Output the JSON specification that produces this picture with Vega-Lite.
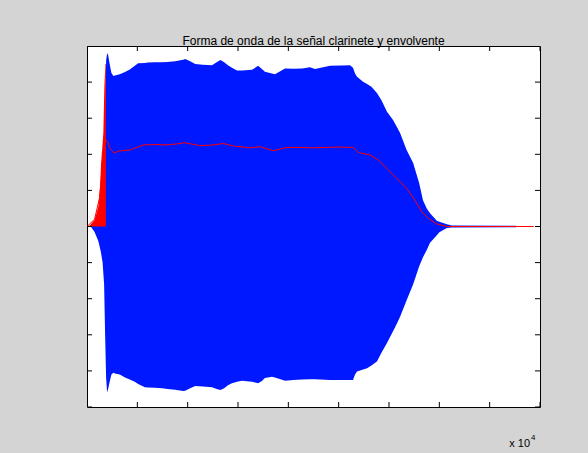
{
  "$schema": "https://vega.github.io/schema/vega-lite/v6.json",
  "width": 453,
  "height": 361,
  "autosize": {"type": "none"},
  "padding": {"left": 87, "top": 46, "right": 48, "bottom": 46},
  "background": "#d4d4d4",
  "config": {
    "view": {"stroke": "black", "fill": "white", "strokeWidth": 1},
    "font": "Liberation Sans",
    "axis": {"grid": false, "domain": false, "ticks": true, "tickOpacity": 0, "tickSize": 5, "labelOverlap": false, "labelColor": "black", "titleColor": "black", "labelFont": "Liberation Sans", "titleFont": "Liberation Sans", "labelFontSize": 11, "titleFontSize": 12, "titleFontWeight": "normal"}
  },
  "title": {"text": "Forma de onda de la señal clarinete y envolvente", "fontSize": 12, "fontWeight": "normal", "font": "Liberation Sans", "color": "black", "offset": -2},
  "datasets": {
    "onda": [
      {"x": 1500, "hi": 0, "lo": 0},
      {"x": 3000, "hi": 0.01, "lo": -0.015},
      {"x": 4500, "hi": 0.02, "lo": -0.04},
      {"x": 5500, "hi": 0.04, "lo": -0.07},
      {"x": 6200, "hi": 0.06, "lo": -0.1},
      {"x": 6800, "hi": 0.1, "lo": -0.16},
      {"x": 7200, "hi": 0.3, "lo": -0.3},
      {"x": 7600, "hi": 0.46, "lo": -0.42},
      {"x": 8000, "hi": 0.48, "lo": -0.46},
      {"x": 8400, "hi": 0.475, "lo": -0.45},
      {"x": 9000, "hi": 0.45, "lo": -0.43},
      {"x": 9700, "hi": 0.425, "lo": -0.41},
      {"x": 10500, "hi": 0.417, "lo": -0.405},
      {"x": 11100, "hi": 0.418, "lo": -0.407},
      {"x": 13000, "hi": 0.422, "lo": -0.41},
      {"x": 15100, "hi": 0.428, "lo": -0.418},
      {"x": 17000, "hi": 0.435, "lo": -0.424},
      {"x": 19000, "hi": 0.445, "lo": -0.43},
      {"x": 20300, "hi": 0.452, "lo": -0.436},
      {"x": 23000, "hi": 0.453, "lo": -0.445},
      {"x": 24200, "hi": 0.454, "lo": -0.446},
      {"x": 27000, "hi": 0.455, "lo": -0.447},
      {"x": 29800, "hi": 0.455, "lo": -0.448},
      {"x": 32000, "hi": 0.456, "lo": -0.45},
      {"x": 35000, "hi": 0.458, "lo": -0.452},
      {"x": 38200, "hi": 0.462, "lo": -0.456},
      {"x": 39000, "hi": 0.464, "lo": -0.455},
      {"x": 41000, "hi": 0.458, "lo": -0.448},
      {"x": 43000, "hi": 0.45, "lo": -0.442},
      {"x": 46000, "hi": 0.448, "lo": -0.443},
      {"x": 49700, "hi": 0.447, "lo": -0.445},
      {"x": 51500, "hi": 0.455, "lo": -0.45},
      {"x": 53000, "hi": 0.461, "lo": -0.453},
      {"x": 54500, "hi": 0.455, "lo": -0.448},
      {"x": 56000, "hi": 0.447, "lo": -0.44},
      {"x": 57600, "hi": 0.44, "lo": -0.434},
      {"x": 59600, "hi": 0.432, "lo": -0.43},
      {"x": 61600, "hi": 0.432, "lo": -0.427},
      {"x": 65600, "hi": 0.434, "lo": -0.43},
      {"x": 68000, "hi": 0.445, "lo": -0.434},
      {"x": 69500, "hi": 0.436, "lo": -0.428},
      {"x": 70700, "hi": 0.429, "lo": -0.42},
      {"x": 73500, "hi": 0.424, "lo": -0.416},
      {"x": 74700, "hi": 0.422, "lo": -0.418},
      {"x": 78700, "hi": 0.438, "lo": -0.427},
      {"x": 82000, "hi": 0.437, "lo": -0.425},
      {"x": 85500, "hi": 0.438, "lo": -0.424},
      {"x": 88600, "hi": 0.441, "lo": -0.423},
      {"x": 90600, "hi": 0.436, "lo": -0.423},
      {"x": 96600, "hi": 0.445, "lo": -0.425},
      {"x": 101000, "hi": 0.446, "lo": -0.425},
      {"x": 104500, "hi": 0.447, "lo": -0.425},
      {"x": 105700, "hi": 0.44, "lo": -0.425},
      {"x": 106500, "hi": 0.424, "lo": -0.41},
      {"x": 107300, "hi": 0.415, "lo": -0.402},
      {"x": 109700, "hi": 0.401, "lo": -0.396},
      {"x": 111300, "hi": 0.395, "lo": -0.393},
      {"x": 113000, "hi": 0.387, "lo": -0.385},
      {"x": 115200, "hi": 0.37, "lo": -0.374},
      {"x": 117000, "hi": 0.35, "lo": -0.35},
      {"x": 119200, "hi": 0.318, "lo": -0.323},
      {"x": 121600, "hi": 0.295, "lo": -0.29},
      {"x": 123200, "hi": 0.275, "lo": -0.268},
      {"x": 124400, "hi": 0.259, "lo": -0.25},
      {"x": 127000, "hi": 0.212, "lo": -0.204},
      {"x": 129600, "hi": 0.176, "lo": -0.16},
      {"x": 132000, "hi": 0.12, "lo": -0.11},
      {"x": 133500, "hi": 0.073, "lo": -0.085},
      {"x": 135000, "hi": 0.05, "lo": -0.065},
      {"x": 136300, "hi": 0.037, "lo": -0.045},
      {"x": 139000, "hi": 0.016, "lo": -0.024},
      {"x": 140000, "hi": 0.013, "lo": -0.016},
      {"x": 143000, "hi": 0.006, "lo": -0.004},
      {"x": 145000, "hi": 0.003, "lo": -0.003},
      {"x": 170500, "hi": 0.002, "lo": -0.002}
    ],
    "ataque": [
      {"x": 0, "y": 0},
      {"x": 1000, "y": 0.002},
      {"x": 3000, "y": 0.018},
      {"x": 4500, "y": 0.055},
      {"x": 5200, "y": 0.11},
      {"x": 5600, "y": 0.176},
      {"x": 6100, "y": 0.22},
      {"x": 6500, "y": 0.26},
      {"x": 6900, "y": 0.387},
      {"x": 7300, "y": 0.45},
      {"x": 7500, "y": 0.45},
      {"x": 7501, "y": 0}
    ],
    "envolvente": [
      {"x": 0, "y": 0},
      {"x": 3000, "y": 0.02},
      {"x": 5000, "y": 0.08},
      {"x": 6500, "y": 0.2},
      {"x": 7400, "y": 0.24},
      {"x": 8200, "y": 0.235},
      {"x": 9100, "y": 0.217},
      {"x": 10500, "y": 0.205},
      {"x": 11100, "y": 0.204},
      {"x": 12500, "y": 0.209},
      {"x": 17100, "y": 0.212},
      {"x": 20000, "y": 0.22},
      {"x": 22400, "y": 0.226},
      {"x": 27000, "y": 0.227},
      {"x": 31700, "y": 0.226},
      {"x": 36000, "y": 0.229},
      {"x": 39000, "y": 0.232},
      {"x": 42000, "y": 0.228},
      {"x": 44900, "y": 0.224},
      {"x": 50200, "y": 0.226},
      {"x": 54200, "y": 0.23},
      {"x": 58100, "y": 0.223},
      {"x": 64800, "y": 0.218},
      {"x": 68800, "y": 0.221},
      {"x": 74000, "y": 0.21},
      {"x": 79400, "y": 0.219},
      {"x": 84700, "y": 0.219},
      {"x": 90000, "y": 0.218},
      {"x": 95000, "y": 0.219},
      {"x": 100000, "y": 0.22},
      {"x": 105800, "y": 0.219},
      {"x": 107800, "y": 0.205},
      {"x": 112500, "y": 0.198},
      {"x": 115800, "y": 0.184},
      {"x": 119100, "y": 0.161},
      {"x": 123100, "y": 0.133},
      {"x": 127000, "y": 0.106},
      {"x": 130300, "y": 0.073},
      {"x": 133000, "y": 0.041},
      {"x": 135600, "y": 0.023},
      {"x": 139000, "y": 0.007},
      {"x": 143000, "y": 0},
      {"x": 177500, "y": 0}
    ],
    "marcasx": [{"v": 0}, {"v": 20000}, {"v": 40000}, {"v": 60000}, {"v": 80000}, {"v": 100000}, {"v": 120000}, {"v": 140000}, {"v": 160000}, {"v": 180000}],
    "marcasy": [{"v": -0.5}, {"v": -0.4}, {"v": -0.3}, {"v": -0.2}, {"v": -0.1}, {"v": 0}, {"v": 0.1}, {"v": 0.2}, {"v": 0.3}, {"v": 0.4}, {"v": 0.5}],
    "escala": [{"x": 180000, "y": -0.5}]
  },
  "layer": [
    {
      "data": {"name": "onda"},
      "mark": {"type": "area", "color": "#0018ff", "interpolate": "linear"},
      "encoding": {
        "x": {"field": "x", "type": "quantitative", "scale": {"domain": [0, 180000], "nice": false, "zero": false},
              "axis": {"orient": "bottom", "values": [0, 20000, 40000, 60000, 80000, 100000, 120000, 140000, 160000, 180000], "labelExpr": "'' + (datum.value / 10000)", "title": "muestras", "labelPadding": 4, "titlePadding": 7, "labelOverlap": false}},
        "y": {"field": "hi", "type": "quantitative", "scale": {"domain": [-0.5, 0.5], "nice": false, "zero": false},
              "axis": {"orient": "left", "values": [-0.5, -0.4, -0.3, -0.2, -0.1, 0, 0.1, 0.2, 0.3, 0.4, 0.5], "labelExpr": "'' + datum.value", "title": "amplitud", "labelPadding": 1, "titlePadding": 7, "labelOverlap": false}},
        "y2": {"field": "lo"}
      }
    },
    {
      "data": {"name": "ataque"},
      "mark": {"type": "area", "color": "#ff0000", "interpolate": "linear"},
      "encoding": {
        "x": {"field": "x", "type": "quantitative", "axis": null},
        "y": {"field": "y", "type": "quantitative", "axis": null}
      }
    },
    {
      "data": {"name": "envolvente"},
      "mark": {"type": "line", "color": "#ff0000", "strokeWidth": 1, "interpolate": "linear"},
      "encoding": {
        "x": {"field": "x", "type": "quantitative", "axis": null},
        "y": {"field": "y", "type": "quantitative", "axis": null}
      }
    },
    {
      "data": {"name": "marcasx"},
      "mark": {"type": "tick", "orient": "vertical", "size": 10, "thickness": 1, "color": "black", "opacity": 1, "clip": true},
      "encoding": {
        "x": {"field": "v", "type": "quantitative", "axis": null},
        "y": {"datum": -0.5, "type": "quantitative", "axis": null}
      }
    },
    {
      "data": {"name": "marcasx"},
      "mark": {"type": "tick", "orient": "vertical", "size": 10, "thickness": 1, "color": "black", "opacity": 1, "clip": true},
      "encoding": {
        "x": {"field": "v", "type": "quantitative", "axis": null},
        "y": {"datum": 0.5, "type": "quantitative", "axis": null}
      }
    },
    {
      "data": {"name": "marcasy"},
      "mark": {"type": "tick", "orient": "horizontal", "size": 10, "thickness": 1, "color": "black", "opacity": 1, "clip": true},
      "encoding": {
        "y": {"field": "v", "type": "quantitative", "axis": null},
        "x": {"datum": 0, "type": "quantitative", "axis": null}
      }
    },
    {
      "data": {"name": "marcasy"},
      "mark": {"type": "tick", "orient": "horizontal", "size": 10, "thickness": 1, "color": "black", "opacity": 1, "clip": true},
      "encoding": {
        "y": {"field": "v", "type": "quantitative", "axis": null},
        "x": {"datum": 180000, "type": "quantitative", "axis": null}
      }
    },
    {
      "data": {"name": "escala"},
      "mark": {"type": "text", "text": "x 10", "align": "right", "baseline": "alphabetic", "dx": -10, "dy": 40, "fontSize": 11, "font": "Liberation Sans", "color": "black"},
      "encoding": {
        "x": {"field": "x", "type": "quantitative", "axis": null},
        "y": {"field": "y", "type": "quantitative", "axis": null}
      }
    },
    {
      "data": {"name": "escala"},
      "mark": {"type": "text", "text": "4", "align": "left", "baseline": "alphabetic", "dx": -9, "dy": 33, "fontSize": 8, "font": "Liberation Sans", "color": "black"},
      "encoding": {
        "x": {"field": "x", "type": "quantitative", "axis": null},
        "y": {"field": "y", "type": "quantitative", "axis": null}
      }
    }
  ]
}
